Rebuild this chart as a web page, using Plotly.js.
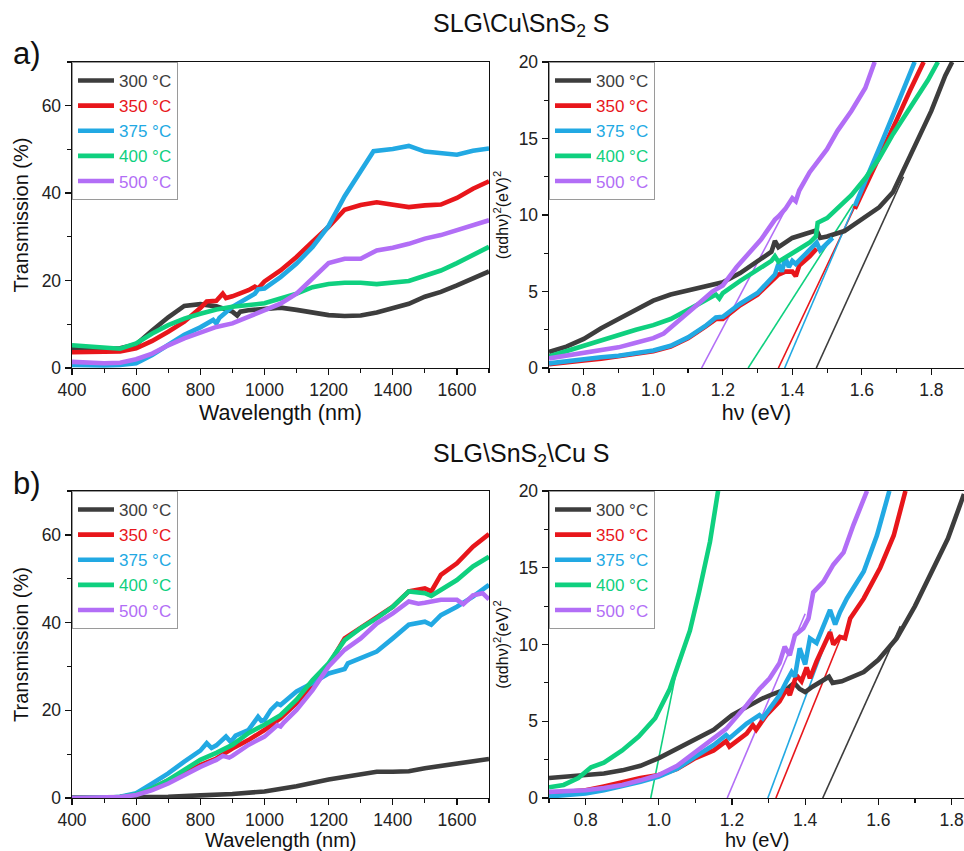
<!DOCTYPE html>
<html><head><meta charset="utf-8">
<script src="https://cdn.plot.ly/plotly-3.0.1.min.js"></script>
<style>html,body{margin:0;padding:0;background:#fff;}#chart{width:964px;height:851px;}</style>
</head><body><div id="chart"></div>
<script>
// ---------- names / colours ----------
const seriesNames = ['300 °C','350 °C','375 °C','400 °C','500 °C'];
const seriesColors = ['#3d3d3d','#e8161b','#22a9e3','#0fd07f','#b26ef6'];

// ---------- (a) Transmission ----------
const aWl_300 = [400,450,500,550,600,650,700,750,800,850,900,915,925,950,1000,1050,1100,1150,1200,1250,1300,1350,1400,1450,1500,1550,1600,1650,1700];
const aT_300  = [4.6,4.4,4.3,4.5,5.4,8.6,11.6,14.2,14.6,14.1,12.9,12.0,12.9,13.2,13.6,13.8,13.3,12.8,12.1,11.9,12.0,12.7,13.8,14.7,16.3,17.4,18.9,20.4,22.1];
const aWl_350 = [400,450,500,550,600,650,700,750,800,820,850,870,880,900,950,970,980,1000,1050,1100,1150,1200,1250,1300,1350,1400,1450,1500,1550,1600,1650,1700];
const aT_350  = [3.6,3.6,3.6,3.8,4.5,6.2,8.3,10.6,13.7,15.2,15.4,17.0,16.0,16.4,17.8,18.6,18.2,19.8,22.3,25.4,28.9,32.3,36.2,37.3,37.9,37.3,36.8,37.2,37.4,38.9,41.0,42.7];
const aWl_375 = [400,450,500,550,600,650,700,750,800,840,850,860,900,950,970,980,1000,1050,1100,1150,1200,1250,1300,1340,1400,1450,1500,1550,1600,1650,1700];
const aT_375  = [0.7,0.6,0.6,0.7,1.1,3.0,5.2,7.6,9.3,11.0,10.2,11.5,14.0,16.1,17.0,18.0,18.2,20.8,23.9,27.7,32.5,39.3,45.3,49.6,50.1,50.8,49.5,49.1,48.8,49.7,50.2];
const aWl_400 = [400,450,500,550,600,650,700,750,800,850,900,950,1000,1050,1100,1150,1200,1250,1300,1350,1400,1450,1500,1550,1600,1650,1700];
const aT_400  = [5.2,4.9,4.6,4.4,5.6,7.9,9.8,11.3,12.4,13.4,14.0,14.4,14.8,15.9,17.0,18.5,19.2,19.5,19.5,19.2,19.5,19.9,21.1,22.3,24.0,25.8,27.7];
const aWl_500 = [400,450,500,550,600,650,700,750,800,850,900,950,1000,1050,1100,1150,1200,1250,1300,1350,1400,1450,1500,1550,1600,1650,1700];
const aT_500  = [1.4,1.2,1.1,1.2,2.0,3.3,5.2,6.8,8.1,9.4,10.2,11.7,13.2,14.7,17.0,20.4,24.0,25.0,25.0,26.9,27.5,28.4,29.6,30.4,31.5,32.6,33.8];

// ---------- (a) Tauc ----------
const aE_300 = [0.7,0.75,0.8,0.85,0.9,0.95,1.0,1.05,1.1,1.15,1.2,1.25,1.3,1.34,1.35,1.36,1.4,1.45,1.47,1.48,1.5,1.55,1.6,1.65,1.69,1.72,1.76,1.8,1.84,1.86];
const aA_300 = [1.05,1.4,1.9,2.6,3.2,3.8,4.4,4.8,5.05,5.3,5.6,6.2,7.0,7.6,8.3,7.9,8.5,8.85,9.0,8.5,8.6,8.95,9.7,10.5,11.5,12.9,14.8,16.8,19.1,20.0];
const aE_350 = [0.7,0.75,0.8,0.85,0.9,0.95,1.0,1.05,1.1,1.15,1.18,1.2,1.25,1.3,1.35,1.36,1.38,1.4,1.41,1.42,1.45,1.47,1.52,1.58,1.62,1.66,1.70,1.74,1.778];
const aA_350 = [0.25,0.4,0.5,0.6,0.75,0.9,1.1,1.4,1.95,2.7,3.2,3.2,4.1,4.8,5.8,6.1,6.3,6.3,6.0,6.7,7.3,7.8,null,10.4,12.3,14.2,16.2,18.2,20];
const aE_375 = [0.7,0.75,0.8,0.85,0.9,0.95,1.0,1.05,1.1,1.15,1.18,1.2,1.25,1.3,1.35,1.36,1.37,1.38,1.39,1.4,1.41,1.44,1.47,1.48,1.5,1.516,1.55,1.58,1.62,1.66,1.70,1.752];
const aA_375 = [0.3,0.45,0.6,0.7,0.8,0.95,1.15,1.45,2.0,2.75,3.3,3.35,4.2,4.9,6.1,6.8,6.3,7.2,6.6,7.0,6.8,7.5,8.2,7.7,8.2,8.5,null,10.6,12.7,14.9,17.1,20];
const aE_400 = [0.7,0.75,0.8,0.85,0.9,0.95,1.0,1.05,1.1,1.15,1.18,1.19,1.2,1.25,1.3,1.34,1.35,1.36,1.4,1.45,1.468,1.473,1.5,1.53,1.57,1.61,1.65,1.69,1.74,1.79,1.819];
const aA_400 = [0.75,1.1,1.5,1.85,2.15,2.5,2.8,3.2,3.8,4.4,4.8,4.55,4.9,5.7,6.4,7.0,7.3,6.95,7.5,8.2,8.6,9.5,9.8,10.4,11.3,12.4,13.7,15.3,17.1,18.8,20];
const aE_500 = [0.7,0.75,0.8,0.85,0.9,0.95,1.0,1.03,1.07,1.12,1.17,1.2,1.24,1.28,1.31,1.35,1.36,1.38,1.4,1.41,1.42,1.45,1.5,1.53,1.57,1.61,1.637];
const aA_500 = [0.63,0.8,0.96,1.15,1.35,1.65,1.95,2.25,3.0,4.0,5.0,5.4,6.6,7.6,8.4,9.7,9.9,10.4,11.1,10.9,11.6,12.8,14.3,15.5,16.8,18.3,20];
// linear fits (x-intercept = band gap)
const aFitE = [[1.469,1.72],[1.36,1.70],[1.378,1.68],[1.273,1.575],[1.139,1.40]];
const aFitA = [[0,12.5],[0,16.3],[0,16.0],[0,10.7],[0,11.2]];

// ---------- (b) Transmission ----------
const bWl_300 = [400,500,600,700,800,900,1000,1100,1200,1300,1350,1400,1450,1500,1600,1700];
const bT_300  = [0.1,0.1,0.1,0.3,0.6,0.9,1.5,2.7,4.2,5.5,6.0,6.0,6.1,6.8,7.9,8.9];
const bWl_350 = [400,500,550,600,650,700,750,800,850,900,950,1000,1050,1100,1150,1200,1250,1300,1350,1400,1450,1500,1520,1550,1600,1650,1700];
const bT_350  = [0,0,0.2,0.8,2.2,4.0,5.6,7.5,9.0,11.3,13.2,15.5,18.2,21.6,25.8,30.3,36.4,38.7,41.0,43.6,47.1,47.8,47.1,50.9,53.5,57.3,60.2];
const bWl_375 = [400,500,550,600,650,700,750,800,820,835,850,880,895,910,950,980,990,1000,1020,1040,1050,1100,1150,1200,1250,1260,1300,1350,1400,1450,1500,1520,1550,1600,1650,1700];
const bT_375  = [0,0,0.3,1.1,3.3,5.6,8.3,10.8,12.5,11.4,12.0,14.0,12.8,14.2,15.5,18.5,17.6,17.8,20.1,21.5,21.2,24.3,26.2,28.4,29.4,30.7,31.9,33.4,36.4,39.5,40.2,39.5,41.7,43.6,45.9,48.6];
const bWl_400 = [400,500,550,600,650,700,750,800,850,900,950,1000,1050,1100,1150,1200,1250,1300,1350,1400,1450,1500,1520,1550,1600,1650,1700];
const bT_400  = [0,0,0.2,0.8,2.2,4.1,6.4,8.7,10.3,12.1,14.8,16.7,18.9,22.4,26.9,30.7,36.0,38.7,41.0,43.6,47.1,46.7,46.1,47.5,49.7,52.8,55.0];
const bWl_500 = [400,500,550,600,650,700,750,800,850,870,890,900,950,1000,1040,1050,1060,1100,1150,1200,1250,1300,1350,1400,1450,1480,1500,1550,1600,1620,1650,1680,1700];
const bT_500  = [0,0,0.2,0.7,1.8,3.3,5.2,7.1,8.7,9.6,9.2,9.6,12.1,14.0,16.6,16.3,17.2,20.1,24.6,30.0,33.8,36.4,39.8,42.1,44.8,44.3,44.5,45.2,45.2,44.2,46.2,46.7,45.3];

// ---------- (b) Tauc ----------
const bE_300 = [0.7,0.75,0.8,0.85,0.9,0.95,1.0,1.05,1.1,1.15,1.2,1.24,1.28,1.31,1.35,1.37,1.385,1.4,1.42,1.465,1.475,1.5,1.56,1.6,1.65,1.7,1.74,1.79,1.834];
const bA_300 = [1.3,1.4,1.5,1.6,1.8,2.1,2.6,3.2,3.8,4.45,5.4,5.95,6.45,6.75,7.1,7.5,7.1,6.9,7.25,7.9,7.5,7.6,8.2,9.0,10.4,12.5,14.4,16.9,19.8];
const bE_350 = [0.7,0.75,0.8,0.85,0.9,0.95,1.0,1.05,1.1,1.15,1.184,1.193,1.24,1.257,1.266,1.294,1.33,1.349,1.358,1.376,1.39,1.404,1.413,1.431,1.468,1.477,1.495,1.509,1.523,1.56,1.605,1.642,1.674];
const bA_350 = [0.3,0.4,0.5,0.75,1.05,1.3,1.5,1.9,2.6,3.1,3.7,3.35,4.2,4.75,4.45,5.4,6.3,7.1,6.7,8.0,7.6,8.5,7.8,8.9,10.8,10.0,10.5,10.4,11.7,13.0,15.0,17.1,20];
const bE_375 = [0.7,0.75,0.8,0.85,0.9,0.95,1.0,1.05,1.1,1.15,1.184,1.193,1.24,1.275,1.284,1.33,1.349,1.363,1.372,1.385,1.4,1.413,1.431,1.459,1.468,1.482,1.495,1.514,1.56,1.596,1.63];
const bA_375 = [0.1,0.2,0.3,0.5,0.75,1.05,1.4,1.9,2.7,3.45,4.1,3.9,4.85,5.4,5.2,6.7,7.6,8.2,7.9,9.75,8.7,10.4,10.1,11.7,12.25,11.3,12.1,13.0,14.75,17.1,20];
const bE_400 = [0.7,0.74,0.78,0.815,0.85,0.9,0.945,0.99,1.03,1.055,1.085,1.11,1.14,1.162];
const bA_400 = [0.7,0.85,1.3,2.0,2.3,3.1,4.0,5.2,7.1,8.8,10.9,13.4,16.7,20];
const bE_500 = [0.7,0.75,0.8,0.85,0.9,0.95,1.0,1.05,1.1,1.15,1.184,1.24,1.275,1.303,1.33,1.344,1.358,1.372,1.395,1.409,1.422,1.45,1.468,1.477,1.505,1.532,1.569];
const bA_500 = [0.4,0.45,0.5,0.65,0.85,1.15,1.5,2.1,3.0,3.9,4.5,6.05,7.1,7.8,8.8,9.85,9.3,10.6,11.05,11.7,13.4,14.1,14.85,15.2,16.0,17.8,20];
const bFitE = [[1.448,1.66],[1.32,1.50],[1.298,1.47],[0.978,1.055],[1.187,1.40]];
const bFitA = [[0,11.2],[0,10.6],[0,11.0],[0,9.1],[0,12.0]];

// ---------- titles / tick labels ----------
const panelTitles = ['SLG\\Cu\\SnS<sub>2</sub> S','SLG\\SnS<sub>2</sub>\\Cu S'];
const panelLetters = ['a)','b)'];
const xTitles = ['Wavelength (nm)','hν (eV)'];
const yTitles = ['Transmission (%)','(αdhν)<sup>2</sup>(eV)<sup>2</sup>'];
const wlTicks = [400,600,800,1000,1200,1400,1600];
const eTicks = [0.8,1.0,1.2,1.4,1.6,1.8];
const tTicks = [0,20,40,60];
const aTicks = [0,5,10,15,20];

// ---------- build traces ----------
const traces = [];
function addSet(xs, ys, xa, ya, leg){
  xs.forEach((x,i)=>{
    traces.push({type:'scatter', mode:'lines', x:x, y:ys[i], xaxis:xa, yaxis:ya,
      connectgaps:false, legend:leg, showlegend:true,
      name:'<span style="color:'+seriesColors[i]+'">'+seriesNames[i]+'</span>',
      line:{color:seriesColors[i], width:4.6, shape:'linear'}, hoverinfo:'skip'});
  });
}
function addFits(xs, ys, xa, ya){
  xs.forEach((x,i)=>{
    traces.push({type:'scatter', mode:'lines', x:x, y:ys[i], xaxis:xa, yaxis:ya,
      showlegend:false, line:{color:seriesColors[i], width:1.6}, hoverinfo:'skip'});
  });
}
addFits(aFitE, aFitA, 'x2','y2');
addFits(bFitE, bFitA, 'x4','y4');
addSet([aWl_300,aWl_350,aWl_375,aWl_400,aWl_500],[aT_300,aT_350,aT_375,aT_400,aT_500],'x','y','legend');
addSet([aE_300,aE_350,aE_375,aE_400,aE_500],[aA_300,aA_350,aA_375,aA_400,aA_500],'x2','y2','legend2');
addSet([bWl_300,bWl_350,bWl_375,bWl_400,bWl_500],[bT_300,bT_350,bT_375,bT_400,bT_500],'x3','y3','legend3');
addSet([bE_300,bE_350,bE_375,bE_400,bE_500],[bA_300,bA_350,bA_375,bA_400,bA_500],'x4','y4','legend4');

const W=964, H=851;
const px = v=>v/W, py = v=>1-v/H;
const FONT = 'Arial, Liberation Sans, sans-serif';
const minorCfg = (dt,t0)=>({ticks:'outside', ticklen:3.5, tickwidth:1.1, tickcolor:'#111', dtick:dt, tick0:t0});
function ax(extra){
  return Object.assign({showline:true, linecolor:'#111', linewidth:1.4, mirror:true,
    ticks:'outside', ticklen:6, tickwidth:1.3, tickcolor:'#111', automargin:false,
    showgrid:false, zeroline:false, fixedrange:true,
    tickfont:{family:FONT, size:17.5, color:'#222'}}, extra);
}
const xtFont = {family:FONT, size:21.5, color:'#111'};
const wlTitle = {text:xTitles[0], font:xtFont, standoff:5};
const eTitle = {text:xTitles[1], font:xtFont, standoff:5};
const tTitle = {text:yTitles[0], font:{family:FONT, size:20, color:'#111'}, standoff:7};
const aTitle = {text:yTitles[1], font:{family:FONT, size:16, color:'#111'}, standoff:6};

const topDom = [py(368), py(62)], botDom = [py(798), py(491)];
const leftDom = [px(72), px(489)];
const layout = {
  width:W, height:H, margin:{l:0,r:0,t:0,b:0}, paper_bgcolor:'#fff', plot_bgcolor:'#fff',
  showlegend:true,
  xaxis: ax({domain:leftDom, range:[400,1700], tickvals:wlTicks, minor:minorCfg(100,400), anchor:'y', title:wlTitle}),
  yaxis: ax({domain:topDom, range:[0,70], tickvals:tTicks, minor:minorCfg(10,0), anchor:'x', title:tTitle}),
  xaxis2: ax({domain:[px(549),1], range:[0.7,1.894], tickvals:eTicks, ticktext:eTicks.map(v=>v.toFixed(1)), minor:minorCfg(0.1,0.7), anchor:'y2', title:eTitle}),
  yaxis2: ax({domain:topDom, range:[0,20], tickvals:aTicks, minor:minorCfg(2.5,0), anchor:'x2', title:aTitle}),
  // bottom row: x titles placed as annotations below (they sit at the page's bottom edge)
  xaxis3: ax({domain:leftDom, range:[400,1700], tickvals:wlTicks, minor:minorCfg(100,400), anchor:'y3'}),
  yaxis3: ax({domain:botDom, range:[0,70], tickvals:tTicks, minor:minorCfg(10,0), anchor:'x3', title:tTitle}),
  xaxis4: ax({domain:[px(549),1], range:[0.7,1.834], tickvals:eTicks, ticktext:eTicks.map(v=>v.toFixed(1)), minor:minorCfg(0.1,0.7), anchor:'y4'}),
  yaxis4: ax({domain:botDom, range:[0,20], tickvals:aTicks, minor:minorCfg(2.5,0), anchor:'x4', title:aTitle}),
  annotations:[
    {text:panelTitles[0], xref:'paper', yref:'paper', x:px(521), y:py(25), xanchor:'center', yanchor:'middle', showarrow:false, font:{family:FONT, size:25, color:'#111'}},
    {text:panelTitles[1], xref:'paper', yref:'paper', x:px(521), y:py(455), xanchor:'center', yanchor:'middle', showarrow:false, font:{family:FONT, size:25, color:'#111'}},
    {text:panelLetters[0], xref:'paper', yref:'paper', x:px(11), y:py(53), xanchor:'left', yanchor:'middle', showarrow:false, font:{family:FONT, size:31, color:'#111'}},
    {text:panelLetters[1], xref:'paper', yref:'paper', x:px(11), y:py(483), xanchor:'left', yanchor:'middle', showarrow:false, font:{family:FONT, size:31, color:'#111'}},
    {text:xTitles[0], xref:'x3 domain', yref:'paper', x:0.5, y:py(828), xanchor:'center', yanchor:'top', showarrow:false, font:{family:FONT, size:20, color:'#111'}, borderpad:0},
    {text:xTitles[1], xref:'x4 domain', yref:'paper', x:0.5, y:py(828), xanchor:'center', yanchor:'top', showarrow:false, font:{family:FONT, size:20, color:'#111'}, borderpad:0}
  ]
};
function leg(x,y){
  return {x:x, y:y, xanchor:'left', yanchor:'top', bgcolor:'#fff', bordercolor:'#9a9a9a', borderwidth:1,
    font:{family:FONT, size:17, color:'#333'}, itemwidth:36, tracegroupgap:0, itemclick:false, itemdoubleclick:false};
}
layout.legend = leg(px(72), py(62));
layout.legend2 = leg(px(549), py(62));
layout.legend3 = leg(px(72), py(491));
layout.legend4 = leg(px(549), py(491));

Plotly.newPlot('chart', traces, layout, {displayModeBar:false, staticPlot:true});
</script></body></html>
